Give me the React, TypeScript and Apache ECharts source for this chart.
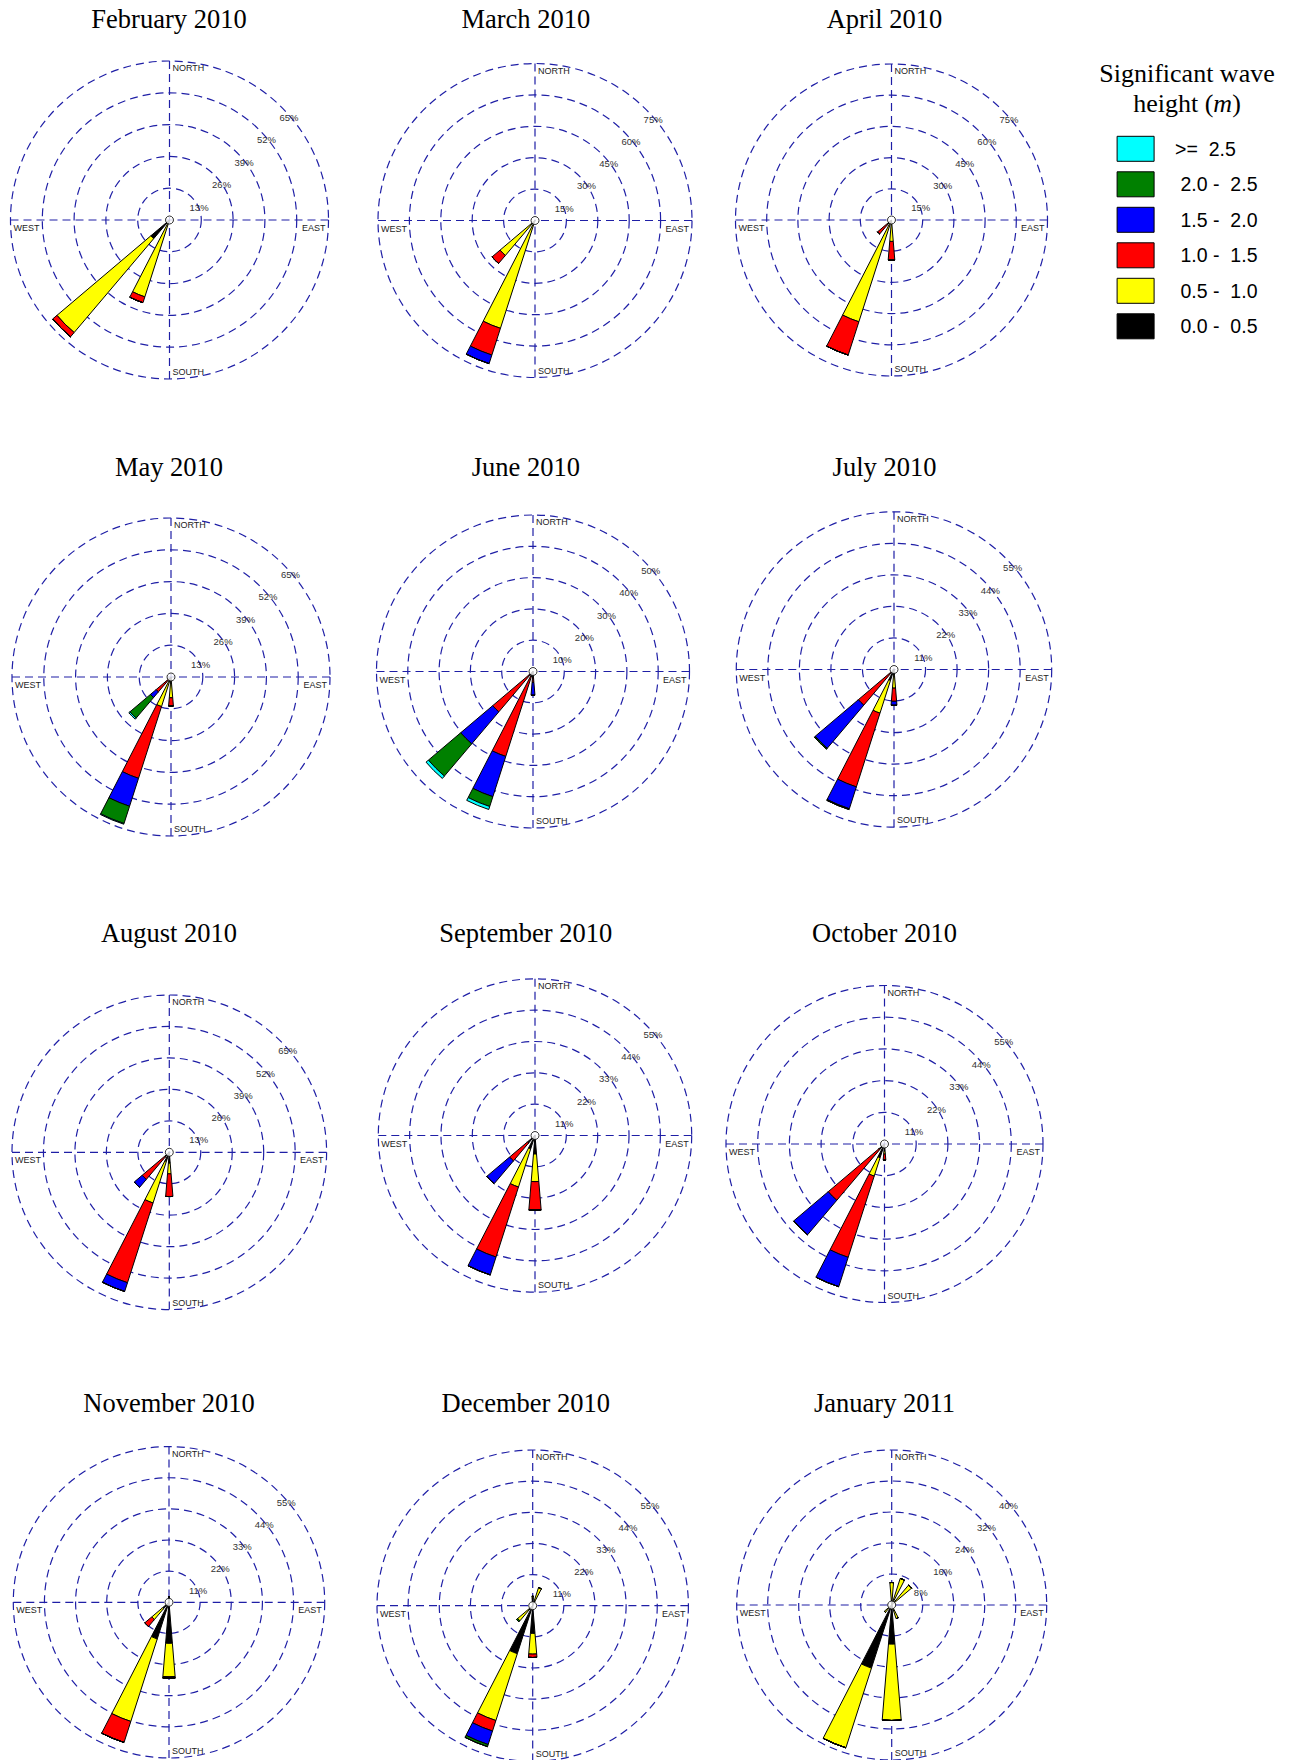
import React, { useEffect, useRef } from "react";
import * as echarts from "echarts";

// ---------- data ----------
const DIRECTIONS = ["N", "NNE", "NE", "ENE", "E", "ESE", "SE", "SSE", "S", "SSW", "SW", "WSW", "W", "WNW", "NW", "NNW"];
// wave height classes, innermost (stack base) first
const HEIGHT_CLASSES = [" 0.0 -  0.5", " 0.5 -  1.0", " 1.0 -  1.5", " 1.5 -  2.0", " 2.0 -  2.5", ">=  2.5"];
const CLASS_COLORS = ["#000000", "#ffff00", "#ff0000", "#0000ff", "#008000", "#00ffff"];
const LEGEND_ORDER = [">=  2.5", " 2.0 -  2.5", " 1.5 -  2.0", " 1.0 -  1.5", " 0.5 -  1.0", " 0.0 -  0.5"];

const MONTHS = [
  "February 2010", "March 2010", "April 2010",
  "May 2010", "June 2010", "July 2010",
  "August 2010", "September 2010", "October 2010",
  "November 2010", "December 2010", "January 2011",
];
// ring spacing (%) of each month's rose: 5 rings
const RING_STEPS = [13, 15, 15, 13, 10, 11, 13, 11, 11, 11, 11, 8];

// frequency (%) per direction: [0-0.5, 0.5-1, 1-1.5, 1.5-2, 2-2.5, >=2.5]
const FEB_2010: [string, number[]][] = [
  ["SSW", [1.5, 31.5, 2.5, 0, 0, 0]],
  ["SW", [10, 50.3, 2.3, 0, 0, 0]],
];
const MAR_2010: [string, number[]][] = [
  ["SSW", [1, 53.1, 13.4, 4.3, 0, 0]],
  ["SW", [1, 20.9, 5, 0, 0, 0]],
];
const APR_2010: [string, number[]][] = [
  ["S", [1, 9.3, 9, 0, 0, 0]],
  ["SSW", [1, 50.4, 16.8, 0, 0, 0]],
  ["SW", [0.5, 2.5, 5.8, 0, 0, 0]],
];
const MAY_2010: [string, number[]][] = [
  ["S", [1, 7.5, 3.4, 0, 0, 0]],
  ["SSW", [1, 11.7, 30.8, 12, 7.4, 0.3]],
  ["SW", [1, 0.5, 6.5, 3, 11, 0.6]],
];
const JUN_2010: [string, number[]][] = [
  ["S", [2, 0, 1.5, 4.1, 0, 0]],
  ["SSW", [1.5, 0, 27, 13.5, 3.3, 1]],
  ["SW", [1.5, 0, 15.4, 13.4, 13.5, 1]],
];
const JUL_2010: [string, number[]][] = [
  ["S", [2, 4.5, 4.6, 1.4, 0, 0]],
  ["SSW", [4, 12, 27, 8, 0.3, 0]],
  ["SW", [1, 0.5, 14.8, 19.7, 0.4, 0]],
];
const AUG_2010: [string, number[]][] = [
  ["S", [4.5, 4.4, 9.4, 0, 0, 0]],
  ["SSW", [4, 18, 34.6, 3.8, 0, 0]],
  ["SW", [2.5, 0, 12.2, 4.3, 0, 0]],
];
const SEP_2010: [string, number[]][] = [
  ["S", [6.5, 9.7, 10, 0, 0, 0]],
  ["SSW", [5, 14, 25.8, 6.6, 0, 0]],
  ["SW", [3.5, 0, 8.2, 10.5, 0, 0]],
];
const OCT_2010: [string, number[]][] = [
  ["S", [2.5, 1, 2.1, 0, 0, 0]],
  ["SSW", [5, 6.7, 29.6, 10.7, 0, 0]],
  ["SW", [2.5, 0, 23.1, 15.7, 0, 0]],
];
const NOV_2010: [string, number[]][] = [
  ["N", [2, 0, 0, 0, 0, 0]],
  ["S", [14.5, 11.8, 0.5, 0, 0, 0]],
  ["SSW", [13.6, 30.6, 7.8, 0, 0, 0]],
  ["SW", [3, 5, 3.2, 0, 0, 0]],
];
const DEC_2010: [string, number[]][] = [
  ["N", [3, 0.3, 0, 0, 0, 0]],
  ["NNE", [2, 4.7, 0, 0, 0, 0]],
  ["S", [9.8, 7.3, 1.2, 0, 0, 0]],
  ["SSW", [17.8, 24.8, 3.9, 5, 0.8, 0]],
  ["SW", [2, 5, 0, 0, 0.5, 0]],
];
const JAN_2011: [string, number[]][] = [
  ["N", [0.3, 5.5, 0, 0, 0, 0]],
  ["NNE", [0.5, 6.7, 0, 0, 0, 0]],
  ["NE", [0.5, 6.2, 0, 0, 0, 0]],
  ["SSE", [0.3, 3.4, 0, 0, 0, 0]],
  ["S", [10.1, 19.7, 0, 0, 0, 0]],
  ["SSW", [17.1, 21.6, 0, 0, 0, 0]],
  ["SW", [0.2, 2.3, 0, 0, 0, 0]],
];
const MONTH_DATA = [FEB_2010, MAR_2010, APR_2010, MAY_2010, JUN_2010, JUL_2010, AUG_2010, SEP_2010, OCT_2010, NOV_2010, DEC_2010, JAN_2011];

// ---------- layout ----------
const PANEL_CENTERS: [number, number, number][] = [
  [169.5, 220, 159], [535, 220.5, 157], [891.5, 220, 156],
  [171, 677, 159], [533, 671.5, 156.5], [894, 669.5, 157.7],
  [169.3, 1152.3, 157.3], [535, 1135.5, 156.7], [884.5, 1144, 158.5],
  [169, 1602.3, 155.7], [532.7, 1605.7, 155.7], [891.7, 1605, 155],
];
const TITLE_X = [169, 525.8, 884.5];
const TITLE_Y = [19, 466.7, 933, 1403];

const SERIF = "'Liberation Serif', 'Times New Roman', serif";
const SANS = "'Liberation Sans', Arial, sans-serif";
const RING_COLOR = "#1f1fa6";

function perClass(rows: [string, number[]][]) {
  const out = HEIGHT_CLASSES.map(() => DIRECTIONS.map(() => 0));
  rows.forEach(([dir, vals]) => {
    const i = DIRECTIONS.indexOf(dir);
    vals.forEach((v, k) => {
      out[k][i] = v;
    });
  });
  return out;
}

function buildOption() {
  const polar: any[] = [];
  const angleAxis: any[] = [];
  const radiusAxis: any[] = [];
  const series: any[] = [];
  const graphic: any[] = [];
  const title: any[] = [];

  MONTHS.forEach((month, p) => {
    const [cx, cy, R] = PANEL_CENTERS[p];
    const step = RING_STEPS[p];
    const max = step * 5;
    const dashed = { color: RING_COLOR, type: [8, 5], width: 1.2 };

    title.push({
      text: month,
      left: TITLE_X[p % 3],
      top: TITLE_Y[Math.floor(p / 3)],
      textAlign: "center",
      textVerticalAlign: "middle",
      padding: 0,
      textStyle: { fontFamily: SERIF, fontSize: 26.5, fontWeight: "normal", color: "#000", lineHeight: 30 },
    });

    // polar for bars and N-E-S-W cross lines
    polar.push({ center: [cx, cy], radius: R });
    angleAxis.push({
      polarIndex: 2 * p,
      type: "category",
      data: DIRECTIONS,
      boundaryGap: false,
      startAngle: 90,
      clockwise: true,
      axisLine: { show: false },
      axisTick: { show: false, interval: 3 },
      axisLabel: { show: false, interval: 3 },
      splitLine: { show: true, interval: 3, lineStyle: dashed },
    });
    radiusAxis.push({
      polarIndex: 2 * p,
      type: "value",
      min: 0,
      max,
      interval: step,
      axisLine: { show: false },
      axisTick: { show: false },
      axisLabel: { show: false },
      splitLine: { show: false },
    });

    // polar for the rings and the percentage labels (axis along NE diagonal)
    polar.push({ center: [cx, cy], radius: R });
    angleAxis.push({
      polarIndex: 2 * p + 1,
      type: "value",
      min: 0,
      max: 360,
      startAngle: 45,
      axisLine: { show: false },
      axisTick: { show: false },
      axisLabel: { show: false },
      splitLine: { show: false },
    });
    radiusAxis.push({
      polarIndex: 2 * p + 1,
      type: "value",
      min: 0,
      max,
      interval: step,
      axisLine: { show: false },
      axisTick: { show: false },
      splitLine: { show: true, lineStyle: dashed },
      axisLabel: {
        show: true,
        margin: -14,
        align: "center",
        verticalAlign: "middle",
        padding: [5.6, 5.6, 0, 0],
        fontSize: 9.5,
        fontFamily: SANS,
        color: "#333",
        formatter: (v: number) => (v === 0 ? "" : v + "%"),
      },
    });

    const cls = perClass(MONTH_DATA[p]);
    HEIGHT_CLASSES.forEach((name, k) => {
      series.push({
        type: "bar",
        coordinateSystem: "polar",
        polarIndex: 2 * p,
        stack: "rose" + p,
        name,
        data: cls[k],
        barWidth: "42%",
        itemStyle: { color: CLASS_COLORS[k], borderColor: "#000", borderWidth: 1 },
        emphasis: { disabled: true },
        silent: true,
        z: 3,
      });
    });
    series.push({
      type: "scatter",
      coordinateSystem: "polar",
      polarIndex: 2 * p,
      name: "centre" + p,
      data: [[0, 0]],
      symbol: "circle",
      symbolSize: 8,
      itemStyle: { color: "#fff", borderColor: "#000", borderWidth: 1 },
      silent: true,
      z: 6,
    });

    const lbl = (text: string, x: number, y: number, align: string) => ({
      type: "text",
      x,
      y,
      silent: true,
      z: 4,
      style: { text, fontSize: 9, fontFamily: SANS, fill: "#222", align, verticalAlign: "middle", textAlign: align, textVerticalAlign: "middle" },
    });
    graphic.push(lbl("NORTH", cx + 3, cy - R + 7, "left"));
    graphic.push(lbl("SOUTH", cx + 3, cy + R - 7, "left"));
    graphic.push(lbl("EAST", cx + R - 3, cy + 8, "right"));
    graphic.push(lbl("WEST", cx - R + 3, cy + 8, "left"));
  });

  title.push({
    text: "Significant wave\nheight ({it|m})",
    left: 1187,
    top: 88,
    textAlign: "center",
    textVerticalAlign: "middle",
    padding: 0,
    textStyle: {
      fontFamily: SERIF,
      fontSize: 26,
      fontWeight: "normal",
      color: "#000",
      lineHeight: 30,
      rich: { it: { fontFamily: SERIF, fontSize: 26, fontStyle: "italic", color: "#000", lineHeight: 30 } },
    },
  });

  return {
    animation: false,
    backgroundColor: "#ffffff",
    title,
    polar,
    angleAxis,
    radiusAxis,
    legend: {
      data: LEGEND_ORDER,
      orient: "vertical",
      left: 1116.6,
      top: 135.8,
      padding: 0,
      itemWidth: 37,
      itemHeight: 25,
      itemGap: 9.5,
      icon: "rect",
      selectedMode: false,
      itemStyle: { borderColor: "#000", borderWidth: 1 },
      textStyle: { fontFamily: SANS, fontSize: 19.5, color: "#000", padding: [0, 0, 0, 16] },
    },
    graphic,
    series,
  };
}

export default function App() {
  const ref = useRef<HTMLDivElement>(null);
  useEffect(() => {
    if (!ref.current) return;
    const chart = echarts.init(ref.current, undefined, { renderer: "svg" });
    chart.setOption(buildOption() as any);
    return () => chart.dispose();
  }, []);
  return (
    <div
      ref={ref}
      style={{ position: "absolute", left: 0, top: 0, width: 1295, height: 1760, background: "#fff" }}
    />
  );
}
